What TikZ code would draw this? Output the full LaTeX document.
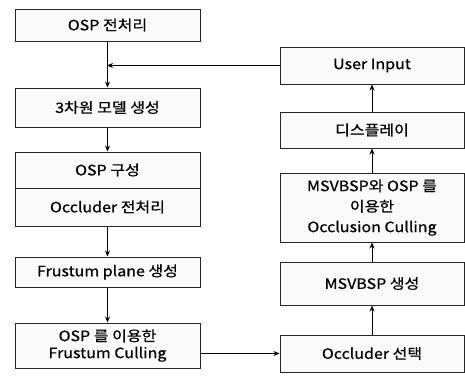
\documentclass[tikz,border=0pt]{standalone}
\usepackage{fontspec}
\setmainfont{Noto Sans CJK KR}[FakeStretch=1.12,FakeBold=0.6]
\usetikzlibrary{arrows.meta}
\begin{document}
\begin{tikzpicture}[x=1pt,y=-1pt,
  box/.style={draw=black!85,line width=1pt,fill=gray!4,inner sep=0pt,align=center,
    font=\fontsize{14.3}{19}\selectfont},
  lbox/.style={box,minimum width=185pt},
  rbox/.style={box,minimum width=184pt},
  arr/.style={line width=0.8pt,-{Stealth[length=6pt,width=5pt]}}]
\useasboundingbox (0,0) rectangle (465,380);
% left column
\node[lbox,minimum height=32pt] (n1) at (107.5,25) {OSP 전처리};
\node[lbox,minimum height=39pt] (n2) at (107.5,107.5) {3차원 모델 생성};
\node[lbox,minimum height=36pt] (n3) at (107.5,170) {OSP 구성};
\node[lbox,minimum height=38pt] (n4) at (107.5,207) {Occluder 전처리};
\node[lbox,minimum height=30pt] (n5) at (107.5,272) {Frustum plane 생성};
\node[lbox,minimum height=45pt,font=\fontsize{14.3}{17}\selectfont] (n6) at (107.5,345.5) {OSP 를 이용한\\Frustum Culling};
% right column
\node[rbox,minimum height=37pt] (r1) at (372,65.5) {User Input};
\node[rbox,minimum height=36pt] (r2) at (372,130) {디스플레이};
\node[rbox,minimum height=69pt,font=\fontsize{14.3}{20.5}\selectfont] (r3) at (372,207.5) {MSVBSP와 OSP 를\\이용한\\Occlusion Culling};
\node[rbox,minimum height=43pt] (r4) at (372,283.5) {MSVBSP 생성};
\node[rbox,minimum height=37pt] (r5) at (372,353.5) {Occluder 선택};
\coordinate (j) at (n1.south |- r1.west);
% connectors
\draw[arr] (n1) -- (n2);
\draw[arr] (n2) -- (n3);
\draw[arr] (n4) -- (n5);
\draw[arr] (n5) -- (n6);
\draw[arr] (n6.east |- r5.west) -- (r5.west);
\draw[arr] (r5) -- (r4);
\draw[arr] (r4) -- (r3);
\draw[arr] (r3) -- (r2);
\draw[arr] (r2) -- (r1);
\draw[arr,shorten >=-0.5pt] (r1.west) -- (j);
\end{tikzpicture}
\end{document}
